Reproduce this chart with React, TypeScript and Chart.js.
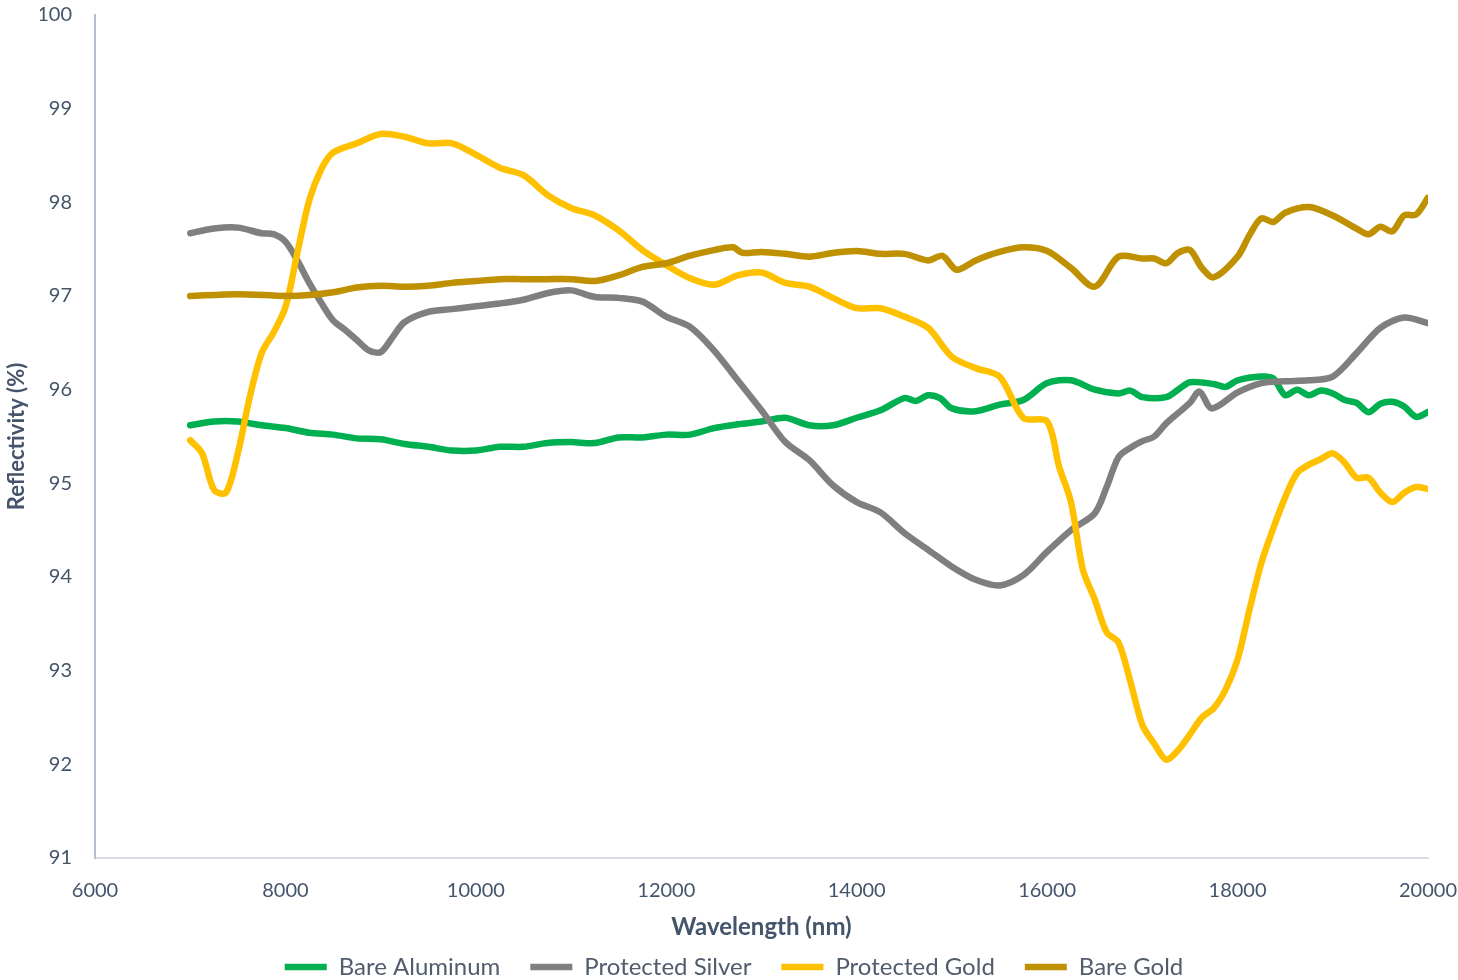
import { useEffect, useRef } from 'react';
import { Chart, registerables } from 'chart.js';

Chart.register(...registerables);

const FONT = 'Lato, "Open Sans", "DejaVu Sans", sans-serif';
const TEXT_COLOR = '#44546A';

const seriesNames = ['Bare Aluminum', 'Protected Silver', 'Protected Gold', 'Bare Gold'];
const seriesColors = ['#00B050', '#7F7F7F', '#FFC000', '#BF9000'];

const xTicks = [6000, 8000, 10000, 12000, 14000, 16000, 18000, 20000];
const yTicks = [91, 92, 93, 94, 95, 96, 97, 98, 99, 100];

const aluminumNm = [
  7000, 7250, 7500, 7750, 8000, 8250, 8500, 8750, 9000, 9250, 9500, 9750, 10000, 10250, 10500, 10750,
  11000, 11250, 11500, 11750, 12000, 12250, 12500, 12750, 13000, 13250, 13500, 13750, 14000, 14250,
  14500, 14625, 14750, 14875, 15000, 15250, 15500, 15750, 16000, 16250, 16500, 16750, 16875, 17000,
  17250, 17375, 17500, 17750, 17875, 18000, 18250, 18375, 18500, 18625, 18750, 18875, 19000, 19125,
  19250, 19375, 19500, 19625, 19750, 19875, 20000,
];
const aluminumPct = [
  95.62, 95.66, 95.66, 95.62, 95.59, 95.54, 95.52, 95.48, 95.47, 95.42, 95.39, 95.35, 95.35, 95.39, 95.39, 95.43,
  95.44, 95.43, 95.49, 95.49, 95.52, 95.52, 95.59, 95.63, 95.66, 95.70, 95.62, 95.62, 95.70, 95.78,
  95.91, 95.88, 95.94, 95.91, 95.80, 95.77, 95.84, 95.89, 96.07, 96.10, 96.00, 95.96, 95.99, 95.92,
  95.92, 96.00, 96.08, 96.06, 96.03, 96.10, 96.14, 96.12, 95.94, 96.00, 95.94, 95.99, 95.96, 95.89,
  95.86, 95.76, 95.85, 95.87, 95.82, 95.71, 95.76,
];

const silverNm = [
  7000, 7250, 7500, 7750, 7875, 8000, 8125, 8250, 8375, 8500, 8625, 8750, 8875, 9000, 9125, 9250,
  9500, 9750, 10000, 10250, 10500, 10750, 11000, 11250, 11500, 11750, 12000, 12250, 12500, 12750,
  13000, 13250, 13500, 13750, 14000, 14250, 14500, 14750, 15000, 15250, 15500, 15750, 16000, 16250,
  16500, 16625, 16750, 16875, 17000, 17125, 17250, 17375, 17500, 17600, 17730, 18000, 18250, 18500,
  18750, 19000, 19250, 19500, 19750, 20000,
];
const silverPct = [
  97.67, 97.72, 97.73, 97.67, 97.66, 97.58, 97.38, 97.14, 96.93, 96.74, 96.64, 96.53, 96.42, 96.40, 96.56, 96.72,
  96.83, 96.86, 96.89, 96.92, 96.96, 97.03, 97.06, 96.99, 96.98, 96.94, 96.78, 96.67, 96.42, 96.10,
  95.78, 95.44, 95.25, 94.98, 94.80, 94.69, 94.47, 94.29, 94.11, 93.97, 93.91, 94.02, 94.27, 94.50,
  94.68, 94.96, 95.28, 95.38, 95.45, 95.50, 95.64, 95.75, 95.86, 95.98, 95.80, 95.97, 96.07, 96.09,
  96.10, 96.14, 96.39, 96.66, 96.77, 96.71,
];

const protectedGoldNm = [
  7000, 7125, 7250, 7375, 7500, 7625, 7750, 7875, 8000, 8125, 8250, 8375, 8500, 8750, 9000, 9250,
  9500, 9750, 10000, 10250, 10500, 10750, 11000, 11250, 11500, 11750, 12000, 12250, 12500, 12750,
  13000, 13250, 13500, 13750, 14000, 14250, 14500, 14750, 15000, 15250, 15500, 15750, 16000, 16125,
  16250, 16375, 16500, 16625, 16750, 16875, 17000, 17125, 17250, 17375, 17500, 17625, 17750, 17875,
  18000, 18125, 18250, 18375, 18500, 18625, 18750, 18875, 19000, 19125, 19250, 19375, 19500, 19625,
  19750, 19875, 20000,
];
const protectedGoldPct = [
  95.46, 95.32, 94.93, 94.90, 95.32, 95.92, 96.39, 96.61, 96.88, 97.46, 98.02, 98.35, 98.53, 98.63, 98.73, 98.70,
  98.63, 98.63, 98.51, 98.37, 98.29, 98.08, 97.94, 97.86, 97.70, 97.49, 97.33, 97.19, 97.12, 97.22,
  97.25, 97.14, 97.10, 96.98, 96.87, 96.87, 96.78, 96.66, 96.35, 96.23, 96.14, 95.70, 95.66, 95.18,
  94.80, 94.08, 93.76, 93.41, 93.30, 92.88, 92.42, 92.22, 92.05, 92.15, 92.32, 92.50, 92.60, 92.80,
  93.12, 93.65, 94.15, 94.52, 94.85, 95.11, 95.20, 95.26, 95.32, 95.22, 95.06, 95.06, 94.90, 94.80,
  94.90, 94.96, 94.94,
];

const bareGoldNm = [
  7000, 7500, 8000, 8250, 8500, 8750, 9000, 9250, 9500, 9750, 10000, 10250, 10500, 10750, 11000, 11250,
  11500, 11750, 12000, 12250, 12500, 12700, 12800, 13000, 13250, 13500, 13750, 14000, 14250, 14500,
  14750, 14900, 15050, 15250, 15500, 15750, 16000, 16250, 16500, 16750, 17000, 17125, 17250, 17375,
  17500, 17625, 17750, 18000, 18125, 18250, 18375, 18500, 18750, 19000, 19250, 19375, 19500, 19625,
  19750, 19875, 20000,
];
const bareGoldPct = [
  97.00, 97.02, 97.00, 97.01, 97.04, 97.09, 97.11, 97.10, 97.11, 97.14, 97.16, 97.18, 97.18, 97.18, 97.18, 97.16,
  97.22, 97.31, 97.35, 97.43, 97.49, 97.52, 97.46, 97.47, 97.45, 97.42, 97.46, 97.48, 97.45, 97.45,
  97.38, 97.43, 97.28, 97.38, 97.47, 97.52, 97.48, 97.30, 97.10, 97.42, 97.40, 97.40, 97.35, 97.46,
  97.49, 97.30, 97.20, 97.42, 97.65, 97.83, 97.79, 97.89, 97.95, 97.86, 97.72, 97.66, 97.74, 97.69,
  97.86, 97.87, 98.05,
];

const seriesNm = [aluminumNm, silverNm, protectedGoldNm, bareGoldNm];
const seriesPct = [aluminumPct, silverPct, protectedGoldPct, bareGoldPct];

export default function App() {
  const ref = useRef<HTMLCanvasElement>(null);

  useEffect(() => {
    if (!ref.current) return;
    const datasets = seriesNames.map((name, i) => ({
      label: name,
      data: seriesNm[i].map((x, j) => ({ x, y: seriesPct[i][j] })),
      borderColor: seriesColors[i],
      backgroundColor: seriesColors[i],
      borderWidth: 6.5,
      borderCapStyle: 'round' as const,
      borderJoinStyle: 'round' as const,
      pointRadius: 0,
      pointHoverRadius: 0,
      tension: 0.3,
      fill: false,
      order: seriesNames.length - i,
    }));

    const chart = new Chart(ref.current, {
      type: 'line',
      data: { datasets },
      options: {
        animation: false,
        responsive: false,
        devicePixelRatio: 1,
        events: [],
        layout: { padding: { left: 40, right: 30, top: 15, bottom: 11 } },
        plugins: {
          tooltip: { enabled: false },
          legend: {
            position: 'bottom',
            labels: {
              usePointStyle: true,
              pointStyle: 'line',
              pointStyleWidth: 42,
              padding: 30,
              color: '#515C6C',
              font: { family: FONT, size: 24 },
              sort: (a: any, b: any) => a.datasetIndex - b.datasetIndex,
            },
          },
        },
        scales: {
          x: {
            type: 'linear',
            min: xTicks[0],
            max: xTicks[xTicks.length - 1],
            afterBuildTicks: (scale: any) => {
              scale.ticks = xTicks.map((v) => ({ value: v }));
            },
            afterFit: (scale: any) => {
              scale.height = 67;
              scale.paddingLeft = 0;
              scale.paddingRight = 0;
            },
            ticks: {
              color: TEXT_COLOR,
              font: { family: FONT, size: 20 },
              padding: 21,
              maxRotation: 0,
              autoSkip: false,
              callback: (v: any) => String(v),
            },
            grid: { display: false, drawTicks: false },
            border: { display: true, color: '#D9DDE3', width: 2 },
            title: {
              display: true,
              text: 'Wavelength (nm)',
              color: TEXT_COLOR,
              font: { family: FONT, size: 24, weight: 'bold' },
              padding: { top: 0, bottom: -17 },
            },
          },
          y: {
            type: 'linear',
            min: yTicks[0],
            max: yTicks[yTicks.length - 1],
            afterBuildTicks: (scale: any) => {
              scale.ticks = yTicks.map((v) => ({ value: v }));
            },
            afterFit: (scale: any) => {
              scale.width = 55;
              scale.paddingTop = 0;
              scale.paddingBottom = 0;
            },
            ticks: {
              color: TEXT_COLOR,
              font: { family: FONT, size: 20 },
              padding: 23,
              autoSkip: false,
              callback: (v: any) => String(v),
            },
            grid: { display: false, drawTicks: false },
            border: { display: true, color: '#B4C0D0', width: 2 },
            title: {
              display: true,
              text: 'Reflectivity (%)',
              color: TEXT_COLOR,
              font: { family: FONT, size: 22, weight: 'bold' },
              padding: { top: -36, bottom: 0 },
            },
          },
        },
      },
    } as any);

    return () => chart.destroy();
  }, []);

  return (
    <div
      style={{
        position: 'fixed',
        left: 0,
        top: 0,
        width: 1458,
        height: 980,
        overflow: 'hidden',
        background: '#fff',
      }}
    >
      <canvas ref={ref} width={1458} height={1000} style={{ display: 'block' }} />
    </div>
  );
}
